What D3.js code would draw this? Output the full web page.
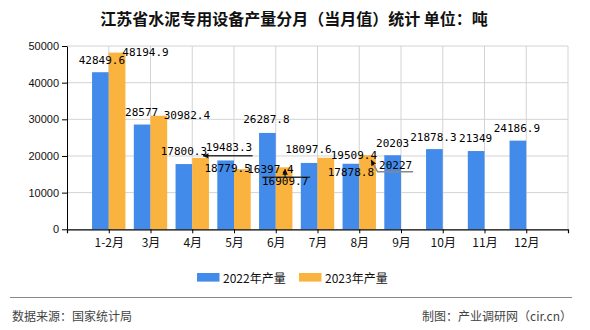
<!DOCTYPE html>
<html><head><meta charset="utf-8">
<script src="https://cdn.jsdelivr.net/npm/d3@7"></script>
<style>
body{margin:0;background:#fff;}
svg{display:block;}
</style></head>
<body><svg id="c" width="590" height="330"></svg>
<script>
const categories = ["1-2月","3月","4月","5月","6月","7月","8月","9月","10月","11月","12月"];
const values2022 = [42849.6, 28577, 17800.3, 18779.5, 26287.8, 18097.6, 17878.8, 20203, 21878.3, 21349, 24186.9];
const values2023 = [48194.9, 30982.4, 19483.3, 16397.4, 16909.7, 19509.4, 20227];
const seriesNames = ["2022年产量","2023年产量"];
const yTicks = [0, 10000, 20000, 30000, 40000, 50000];
const titleText = "江苏省水泥专用设备产量分月（当月值）统计 单位：吨";
const sourceText = "数据来源：国家统计局";
const creditText = "制图：产业调研网（cir.cn）";

// label layout (style only): offsets from bar top-centre
const layout2022 = [
  {dx:1.5,dy:-11.5},{dx:-0.5,dy:-12.5},{dx:0,dy:-13},{dx:2,dy:8.5},{dx:-1,dy:-13},
  {dx:-0.6,dy:-13.7},{dx:0,dy:8.5},{dx:0,dy:-12},{dx:-1,dy:-12},{dx:-0.5,dy:-13},{dx:-1,dy:-12.6}
];
const layout2023 = [
  {dx:28.4,dy:-0.6},{dx:28,dy:0},
  {dx:28.4,dy:-10,leader:[[2.5,-2],[52,-2]],arrow:true,lc:"#333"},
  {dx:28,dy:0},
  {dx:1,dy:14.4,leader:[[1,2],[1,10]],arrow:true,extra:[[-22,10],[26,10]],lc:"#333"},
  {dx:28,dy:-1.8},
  {dx:28,dy:10,leader:[[3.5,5],[10,16.6],[45.5,16.6]],arrow:true,lc:"#888"}
];

const colors = ["#438bea","#fbb33f"];
const svg = d3.select("#c");
const L = 67, R = 568, T = 46, B = 229.3;
const x = d3.scalePoint().domain(categories).range([L, R]).padding(1);
const y = d3.scaleLinear().domain([0, 50000]).range([B, T]);
const bw = 16.7;

svg.append("defs").append("marker")
  .attr("id","arr").attr("viewBox","0 0 10 10").attr("refX",9).attr("refY",5)
  .attr("markerUnits","userSpaceOnUse")
  .attr("markerWidth",6).attr("markerHeight",6).attr("orient","auto-start-reverse")
  .append("path").attr("d","M10,5 L0,0.5 L0,9.5 Z").attr("fill","#111");

// grid
const g = svg.append("g");
g.selectAll("line.h").data(yTicks.slice(1)).join("line")
  .attr("x1",L).attr("x2",R).attr("y1",d=>y(d)).attr("y2",d=>y(d))
  .attr("stroke","#d3d3d3").attr("stroke-width",1);
g.selectAll("line.v").data(categories.map(c=>x(c)).concat([R])).join("line")
  .attr("x1",d=>d).attr("x2",d=>d).attr("y1",T).attr("y2",B)
  .attr("stroke","#d3d3d3").attr("stroke-width",1);

// bars
const bars = svg.append("g");
bars.selectAll("rect.a").data(values2022).join("rect")
  .attr("x",(d,i)=>x(categories[i])-bw).attr("width",bw)
  .attr("y",d=>y(d)).attr("height",d=>B-y(d)).attr("fill",colors[0]);
bars.selectAll("rect.b").data(values2023).join("rect")
  .attr("x",(d,i)=>x(categories[i])).attr("width",bw)
  .attr("y",d=>y(d)).attr("height",d=>B-y(d)).attr("fill",colors[1]);

// axes
const ya = svg.append("g").attr("transform",`translate(${L},0)`)
  .call(d3.axisLeft(y).tickValues(yTicks).tickFormat(d3.format("d")).tickSize(5).tickSizeOuter(0).tickPadding(3));
ya.select(".domain").attr("stroke","#000");
ya.selectAll("text").attr("font-family","Liberation Sans, Arial, sans-serif").attr("font-size","11px").attr("fill","#111");
const xa = svg.append("g").attr("transform",`translate(0,${B})`)
  .call(d3.axisBottom(x).tickSize(4).tickSizeOuter(4).tickPadding(5));
xa.select(".domain").attr("stroke","#000").attr("stroke-width",1.2);
xa.selectAll("text").attr("font-family","Noto Sans CJK SC, sans-serif").attr("font-size","12px").attr("fill","#111");

// labels
const lf = "DejaVu Sans Mono, monospace";
const lab = svg.append("g").attr("font-family",lf).attr("font-size","11px").attr("fill","#000");
values2022.forEach((v,i)=>{
  const cx = x(categories[i]) - bw/2, ty = y(v), o = layout2022[i];
  lab.append("text").attr("x",cx+o.dx).attr("y",ty+o.dy).attr("text-anchor","middle")
    .attr("dominant-baseline","central").text(String(v));
});
values2023.forEach((v,i)=>{
  const cx = x(categories[i]) + bw/2, ty = y(v), o = layout2023[i];
  if (o.leader) {
    const line = d3.line();
    const p = svg.append("path").attr("d",line(o.leader.map(q=>[cx+q[0],ty+q[1]])))
      .attr("fill","none").attr("stroke",o.lc).attr("stroke-width",1.5);
    if (o.arrow) p.attr("marker-start","url(#arr)");
    if (o.extra) svg.append("path").attr("d",line(o.extra.map(q=>[cx+q[0],ty+q[1]])))
      .attr("fill","none").attr("stroke",o.lc).attr("stroke-width",1.5);
  }
  lab.append("text").attr("x",cx+o.dx).attr("y",ty+o.dy).attr("text-anchor","middle")
    .attr("dominant-baseline","central").text(String(v));
});
lab.raise();

// title
svg.append("text").attr("x",294).attr("y",18).attr("text-anchor","middle")
  .attr("dominant-baseline","central").attr("font-family","Noto Sans CJK SC, sans-serif")
  .attr("font-size","16px").attr("font-weight","bold").attr("fill","#111").text(titleText);

// legend
const lg = svg.append("g").attr("font-family","Noto Sans CJK SC, sans-serif").attr("font-size","12px");
const legX = [197, 299];
seriesNames.forEach((n,i)=>{
  lg.append("rect").attr("x",legX[i]).attr("y",273).attr("width",22.5).attr("height",8.6).attr("fill",colors[i]);
  lg.append("text").attr("x",legX[i]+26).attr("y",277).attr("dominant-baseline","central").attr("fill","#111").text(n);
});

// footer
svg.append("line").attr("x1",10).attr("x2",572).attr("y1",297.5).attr("y2",297.5).attr("stroke","#888").attr("stroke-width",1);
svg.append("text").attr("x",12).attr("y",315).attr("dominant-baseline","central")
  .attr("font-family","Noto Sans CJK SC, sans-serif").attr("font-size","12px").attr("fill","#444").text(sourceText);
svg.append("text").attr("x",572).attr("y",315).attr("text-anchor","end").attr("dominant-baseline","central")
  .attr("font-family","Noto Sans CJK SC, sans-serif").attr("font-size","12px").attr("fill","#444").text(creditText);
</script></body></html>
